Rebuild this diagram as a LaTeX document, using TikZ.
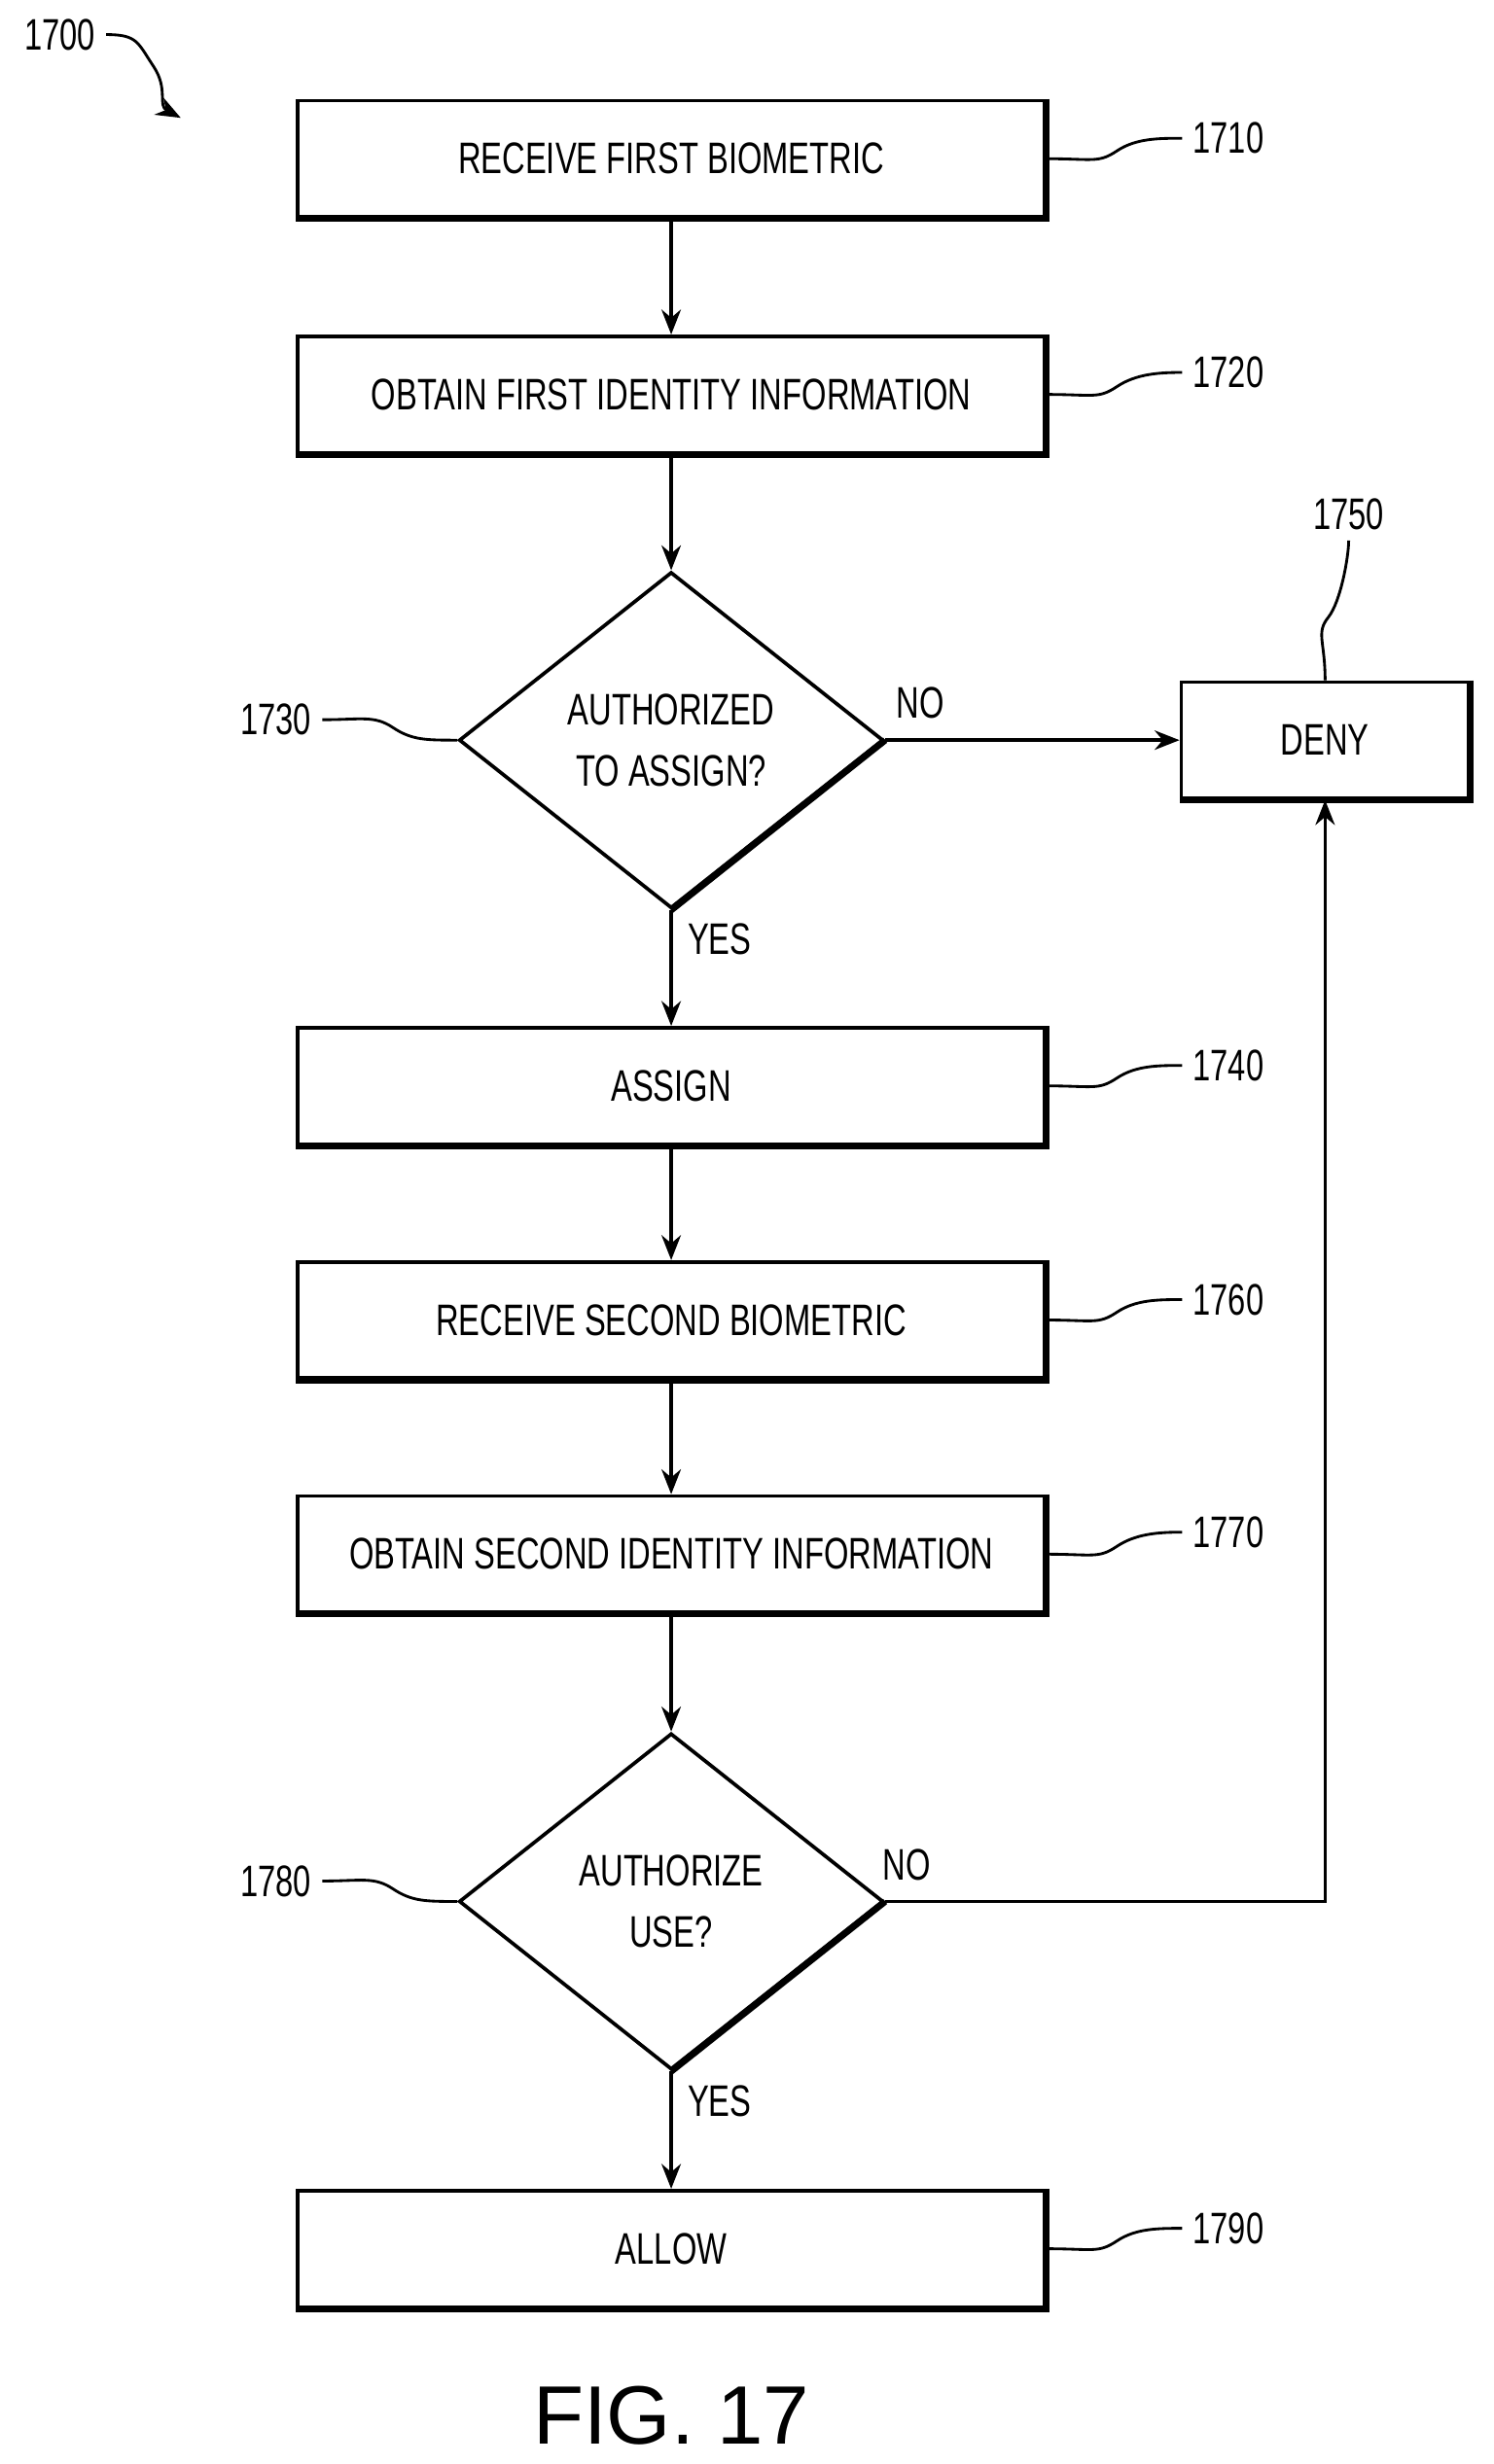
\documentclass[tikz,border=0pt]{standalone}
\usepackage{fontspec}
\setmainfont{Liberation Sans}[FakeStretch=0.72]
\newfontfamily\figfont{Liberation Sans}
\usetikzlibrary{arrows.meta,shapes.geometric}
\begin{document}
\begin{tikzpicture}[x=0.02cm,y=-0.02cm,line width=1.3pt,
  box/.style={draw,minimum width=9.5cm,minimum height=1.48cm,inner sep=0,font=\fontsize{16}{18}\selectfont},
  dec/.style={draw,diamond,aspect=1.26,minimum width=5.4cm,minimum height=4.28cm,inner sep=0,align=center,font=\fontsize{16}{22}\selectfont},
  lbl/.style={font=\fontsize{16}{18}\selectfont},
  arr/.style={-{Stealth[length=9pt,width=7pt]}},
  sq/.style={line width=1pt}]
\useasboundingbox (0,0) rectangle (950,1568);
\node[box] (b1) at (427,101) {RECEIVE FIRST BIOMETRIC};
\node[box] (b2) at (427,251) {OBTAIN FIRST IDENTITY INFORMATION};
\node[dec] (d1) at (427,471) {AUTHORIZED\\TO ASSIGN?};
\node[box,minimum width=3.66cm] (deny) at (843,471) {DENY};
\node[box] (b4) at (427,691) {ASSIGN};
\node[box] (b6) at (427,840) {RECEIVE SECOND BIOMETRIC};
\node[box] (b7) at (427,989) {OBTAIN SECOND IDENTITY INFORMATION};
\node[dec] (d2) at (427,1210) {AUTHORIZE\\USE?};
\node[box] (b9) at (427,1431) {ALLOW};
% shadow edges
\foreach \n in {b1,b2,deny,b4,b6,b7,b9}{\draw[line width=2.4pt] (\n.north east)--(\n.south east)--(\n.south west);}
\foreach \n in {d1,d2}{\draw[line width=2.4pt] (\n.east)--(\n.south);}
\draw[arr] (b1)--(b2);
\draw[arr] (b2)--(d1);
\draw[arr] (d1)--(b4) node[lbl,pos=0.25,right=2pt]{YES};
\draw[arr] (d1)--(deny) node[lbl,pos=0.12,above=4pt]{NO};
\draw[arr] (b4)--(b6);
\draw[arr] (b6)--(b7);
\draw[arr] (b7)--(d2);
\draw[arr] (d2)--(b9) node[lbl,pos=0.25,right=2pt]{YES};
\coordinate (c) at (843,1210);
\draw[arr] (d2.east)--(c)--(deny.south);
\node[lbl,xshift=-4pt] at (584,1187) {NO};
% reference labels
\foreach \n/\y/\t in {b1/88/1710,b2/237/1720,b4/678/1740,b6/827/1760,b7/975/1770,b9/1418/1790}{
  \node[lbl,anchor=west] (l\t) at (752,\y) {\t};
  \draw[sq] (\n.east) .. controls +(30,0) and +(-12,8) .. ++(45,-5) .. controls +(12,-8) and +(-15,0) .. (l\t.west);
}
\node[lbl] (l1750) at (858,327) {1750};
\draw[sq] (deny.north) .. controls +(0,-25) and +(-8,10) .. ++(2,-40) .. controls +(8,-10) and +(0,10) .. (l1750.south);
\node[lbl,anchor=east] (l1730) at (205,458) {1730};
\draw[sq] (l1730.east) .. controls +(25,0) and +(-12,-8) .. ++(45,5) .. controls +(12,8) and +(-20,0) .. (d1.west);
\node[lbl,anchor=east] (l1780) at (205,1197) {1780};
\draw[sq] (l1780.east) .. controls +(25,0) and +(-12,-8) .. ++(45,5) .. controls +(12,8) and +(-20,0) .. (d2.west);
\node[lbl] (l1700) at (38,22) {1700};
\coordinate (t1700) at (115,75);
\draw[sq,arr] (l1700.east) .. controls +(20,0) and +(-10,-15) .. ++(30,20) .. controls +(10,15) and +(-15,-8) .. (t1700);
\node[font=\figfont\fontsize{30}{34}\selectfont] (fig) at (427,1537) {FIG. 17};
\end{tikzpicture}
\end{document}
